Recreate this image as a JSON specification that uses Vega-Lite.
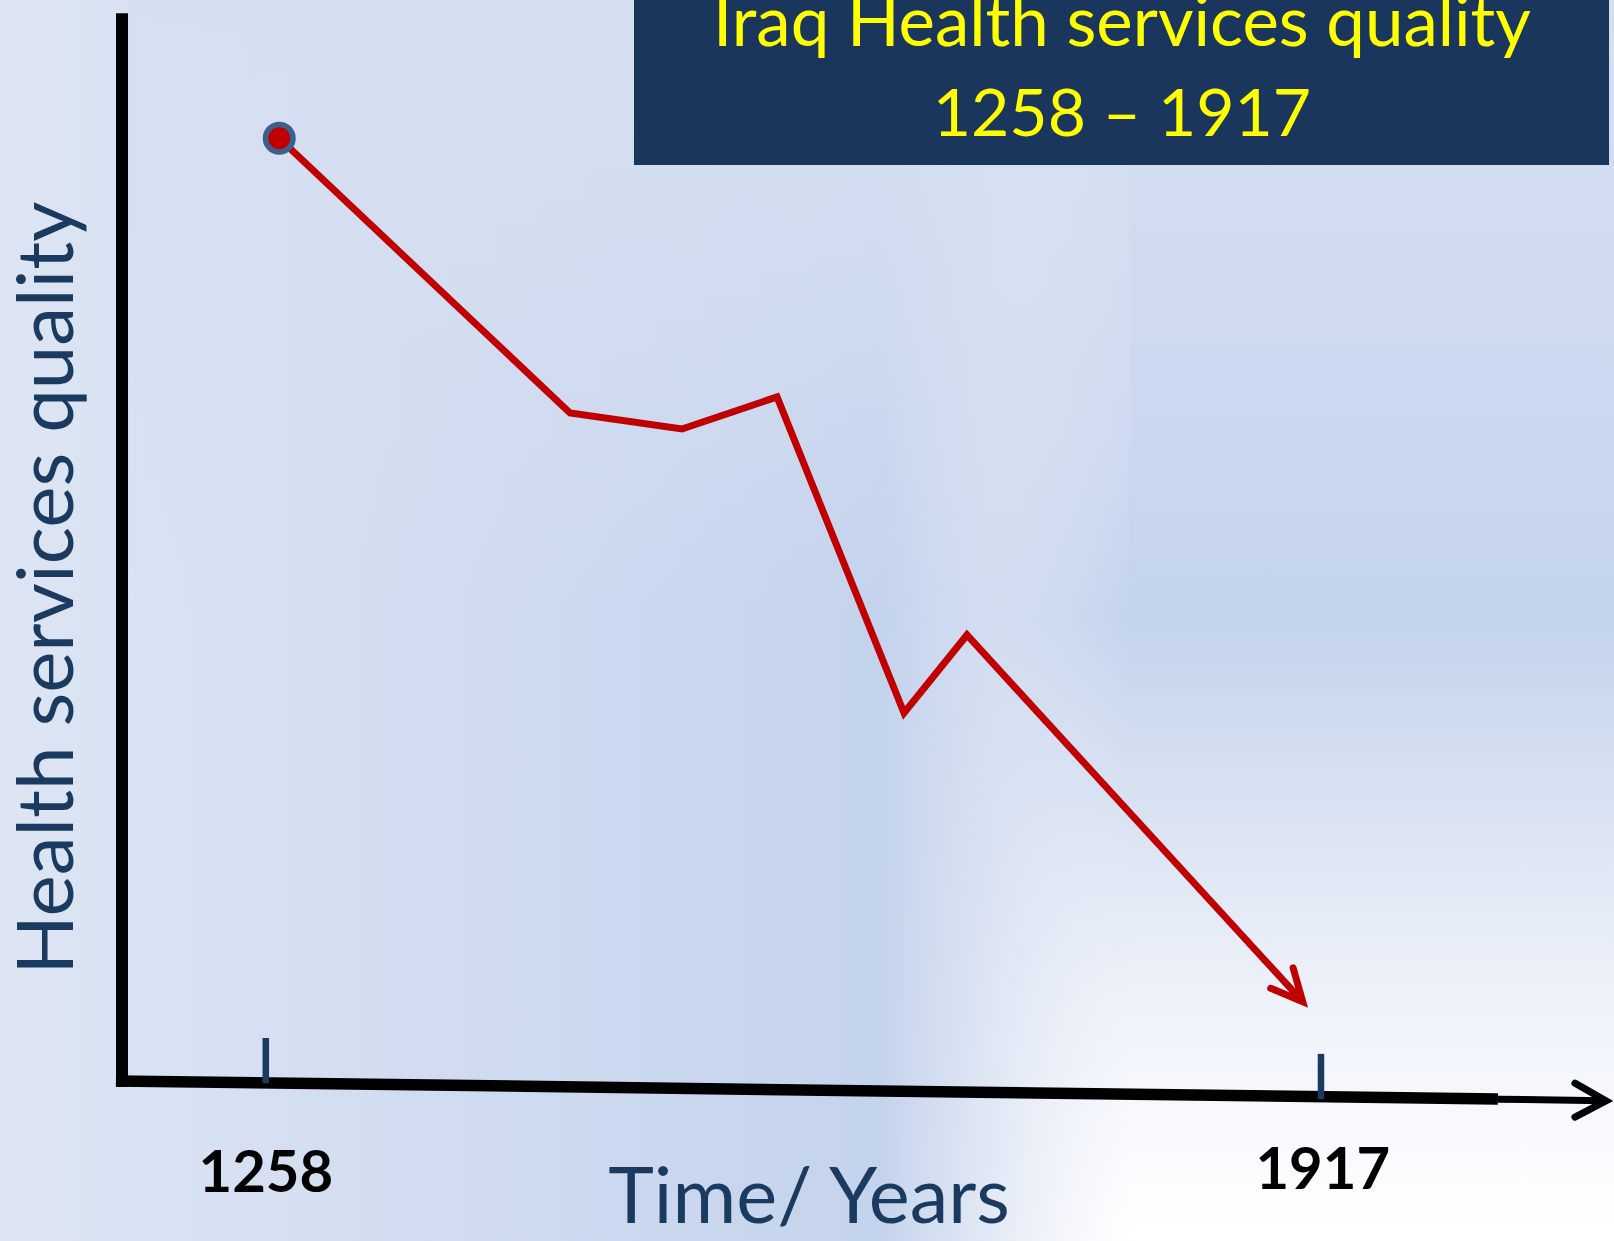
{
  "$schema": "https://vega.github.io/schema/vega-lite/v6.json",
  "width": 1614,
  "height": 1241,
  "autosize": {"type": "none"},
  "padding": 0,
  "background": "#ffffff",
  "config": {"view": {"stroke": null}},
  "datasets": {
    "quality": [
      {"year": 1266.4, "quality": 99.87},
      {"year": 1448.0, "quality": 70.81},
      {"year": 1517.9, "quality": 69.11},
      {"year": 1577.3, "quality": 72.5},
      {"year": 1656.6, "quality": 39.07},
      {"year": 1695.9, "quality": 47.32},
      {"year": 1905.6, "quality": 8.52}
    ],
    "redhead": [
      {"k": 1, "year": 1899.6, "quality": 12.1},
      {"k": 2, "year": 1905.6, "quality": 8.52},
      {"k": 3, "year": 1885.6, "quality": 9.94}
    ],
    "xaxis": [
      {"year": 1164.4, "quality": 0.13, "year2": 2027.5, "quality2": -1.77}
    ],
    "xaxisthin": [
      {"year": 2027.5, "quality": -1.8, "year2": 2094, "quality2": -1.96}
    ],
    "blackhead": [
      {"k": 1, "year": 2075.6, "quality": -0.1},
      {"k": 2, "year": 2095.0, "quality": -1.98},
      {"k": 3, "year": 2075.6, "quality": -3.7}
    ],
    "yaxis": [
      {"year": 1168.2, "quality": 113.1, "year2": 1168.2, "quality2": -0.5}
    ],
    "ticks": [
      {"year": 1258, "quality": 4.68, "year2": 1258, "quality2": -0.1},
      {"year": 1917, "quality": 3.0, "year2": 1917, "quality2": -1.8}
    ],
    "ticklabels": [
      {"year": 1258, "quality": -11.6, "label": "1258"},
      {"year": 1918.1, "quality": -11.3, "label": "1917"}
    ],
    "titles": [
      {"line": 1, "year": 1792.7, "quality": 109.63, "label": "Iraq Health services quality"},
      {"line": 2, "year": 1792.7, "quality": 100.12, "label": "1258 – 1917"}
    ]
  },
  "layer": [
    {
      "data": {"values": [{}]},
      "mark": {"type": "rect", "fill": {"gradient": "linear", "x1": 0, "y1": 0, "x2": 0, "y2": 1, "stops": [
        {"offset": 0, "color": "#d6e0f2"},
        {"offset": 0.32, "color": "#ccd8ef"},
        {"offset": 0.5, "color": "#c3d3ec"},
        {"offset": 0.65, "color": "#d9e2f2"},
        {"offset": 0.8, "color": "#edf1f9"},
        {"offset": 0.9, "color": "#f7f9fd"},
        {"offset": 1, "color": "#ffffff"}]}},
      "encoding": {
        "x": {"datum": 1092, "type": "quantitative", "scale": {"domain": [1092, 2100], "nice": false, "zero": false}, "axis": null},
        "x2": {"datum": 2100},
        "y": {"datum": 114.5, "type": "quantitative", "scale": {"domain": [-16.8, 114.5], "nice": false, "zero": false}, "axis": null},
        "y2": {"datum": -16.8}
      }
    },
    {
      "data": {"values": [{}]},
      "mark": {"type": "rect", "fill": {"gradient": "linear", "x1": 0, "y1": 0, "x2": 1, "y2": 0, "stops": [
        {"offset": 0, "color": "rgba(221,229,243,1)"},
        {"offset": 0.1, "color": "rgba(218,227,243,1)"},
        {"offset": 0.5, "color": "rgba(205,217,239,1)"},
        {"offset": 0.78, "color": "rgba(196,211,236,1)"},
        {"offset": 0.88, "color": "rgba(216,225,242,0.7)"},
        {"offset": 1, "color": "rgba(230,236,247,0)"}]}},
      "encoding": {
        "x": {"datum": 1092, "type": "quantitative", "scale": {"domain": [1092, 2100], "nice": false, "zero": false}, "axis": null},
        "x2": {"datum": 1797.7},
        "y": {"datum": 114.5, "type": "quantitative", "scale": {"domain": [-16.8, 114.5], "nice": false, "zero": false}, "axis": null},
        "y2": {"datum": -16.8}
      }
    },
    {
      "data": {"values": [{}]},
      "mark": {"type": "rect", "fill": {"gradient": "linear", "x1": 0, "y1": 0, "x2": 0, "y2": 1, "stops": [
        {"offset": 0, "color": "rgba(213,223,241,1)"},
        {"offset": 0.35, "color": "rgba(213,223,241,0.75)"},
        {"offset": 1, "color": "rgba(213,223,241,0)"}]}},
      "encoding": {
        "x": {"datum": 1172, "type": "quantitative", "scale": {"domain": [1092, 2100], "nice": false, "zero": false}, "axis": null},
        "x2": {"datum": 1797.7},
        "y": {"datum": 114.5, "type": "quantitative", "scale": {"domain": [-16.8, 114.5], "nice": false, "zero": false}, "axis": null},
        "y2": {"datum": 50}
      }
    },
    {
      "data": {"values": [{}]},
      "mark": {"type": "rect", "fill": "#1a365d"},
      "encoding": {
        "x": {"datum": 1487.95, "type": "quantitative", "scale": {"domain": [1092, 2100], "nice": false, "zero": false}, "axis": null},
        "x2": {"datum": 2096.9},
        "y": {"datum": 114.5, "type": "quantitative", "scale": {"domain": [-16.8, 114.5], "nice": false, "zero": false}, "axis": null},
        "y2": {"datum": 97.04}
      }
    },
    {
      "data": {"name": "titles"},
      "transform": [{"filter": "datum.line == 1"}],
      "mark": {"type": "text", "font": "Lato", "fontSize": 69, "color": "#ffff00", "align": "center", "baseline": "alphabetic"},
      "encoding": {
        "x": {"field": "year", "type": "quantitative", "scale": {"domain": [1092, 2100], "nice": false, "zero": false}, "axis": null},
        "y": {"field": "quality", "type": "quantitative", "scale": {"domain": [-16.8, 114.5], "nice": false, "zero": false}, "axis": null},
        "text": {"field": "label"}
      }
    },
    {
      "data": {"name": "titles"},
      "transform": [{"filter": "datum.line == 2"}],
      "mark": {"type": "text", "font": "Lato", "fontSize": 66, "color": "#ffff00", "align": "center", "baseline": "alphabetic"},
      "encoding": {
        "x": {"field": "year", "type": "quantitative", "scale": {"domain": [1092, 2100], "nice": false, "zero": false}, "axis": null},
        "y": {"field": "quality", "type": "quantitative", "scale": {"domain": [-16.8, 114.5], "nice": false, "zero": false}, "axis": null},
        "text": {"field": "label"}
      }
    },
    {
      "data": {"name": "yaxis"},
      "mark": {"type": "rule", "color": "#000000", "strokeWidth": 12, "strokeCap": "butt"},
      "encoding": {
        "x": {"field": "year", "type": "quantitative", "scale": {"domain": [1092, 2100], "nice": false, "zero": false}, "axis": null},
        "y": {"field": "quality", "type": "quantitative", "scale": {"domain": [-16.8, 114.5], "nice": false, "zero": false}, "axis": null},
        "x2": {"field": "year2"},
        "y2": {"field": "quality2"}
      }
    },
    {
      "data": {"name": "xaxis"},
      "mark": {"type": "rule", "color": "#000000", "strokeWidth": 11.5, "strokeCap": "butt"},
      "encoding": {
        "x": {"field": "year", "type": "quantitative", "scale": {"domain": [1092, 2100], "nice": false, "zero": false}, "axis": null},
        "y": {"field": "quality", "type": "quantitative", "scale": {"domain": [-16.8, 114.5], "nice": false, "zero": false}, "axis": null},
        "x2": {"field": "year2"},
        "y2": {"field": "quality2"}
      }
    },
    {
      "data": {"name": "xaxisthin"},
      "mark": {"type": "rule", "color": "#000000", "strokeWidth": 7, "strokeCap": "butt"},
      "encoding": {
        "x": {"field": "year", "type": "quantitative", "scale": {"domain": [1092, 2100], "nice": false, "zero": false}, "axis": null},
        "y": {"field": "quality", "type": "quantitative", "scale": {"domain": [-16.8, 114.5], "nice": false, "zero": false}, "axis": null},
        "x2": {"field": "year2"},
        "y2": {"field": "quality2"}
      }
    },
    {
      "data": {"name": "blackhead"},
      "mark": {"type": "line", "color": "#000000", "strokeWidth": 7, "strokeCap": "round", "strokeJoin": "miter"},
      "encoding": {
        "x": {"field": "year", "type": "quantitative", "scale": {"domain": [1092, 2100], "nice": false, "zero": false}, "axis": null},
        "y": {"field": "quality", "type": "quantitative", "scale": {"domain": [-16.8, 114.5], "nice": false, "zero": false}, "axis": null},
        "order": {"field": "k"}
      }
    },
    {
      "data": {"name": "ticks"},
      "mark": {"type": "rule", "color": "#1b3a5f", "strokeWidth": 6.5, "strokeCap": "butt"},
      "encoding": {
        "x": {"field": "year", "type": "quantitative", "scale": {"domain": [1092, 2100], "nice": false, "zero": false}, "axis": null},
        "y": {"field": "quality", "type": "quantitative", "scale": {"domain": [-16.8, 114.5], "nice": false, "zero": false}, "axis": null},
        "x2": {"field": "year2"},
        "y2": {"field": "quality2"}
      }
    },
    {
      "data": {"name": "quality"},
      "mark": {"type": "line", "color": "#c00000", "strokeWidth": 7, "strokeJoin": "miter", "strokeCap": "butt"},
      "encoding": {
        "x": {"field": "year", "type": "quantitative", "scale": {"domain": [1092, 2100], "nice": false, "zero": false}, "axis": null},
        "y": {"field": "quality", "type": "quantitative", "scale": {"domain": [-16.8, 114.5], "nice": false, "zero": false}, "axis": null}
      }
    },
    {
      "data": {"name": "redhead"},
      "mark": {"type": "line", "color": "#c00000", "strokeWidth": 7, "strokeCap": "round", "strokeJoin": "miter"},
      "encoding": {
        "x": {"field": "year", "type": "quantitative", "scale": {"domain": [1092, 2100], "nice": false, "zero": false}, "axis": null},
        "y": {"field": "quality", "type": "quantitative", "scale": {"domain": [-16.8, 114.5], "nice": false, "zero": false}, "axis": null},
        "order": {"field": "k"}
      }
    },
    {
      "data": {"name": "quality"},
      "transform": [{"filter": "datum.year < 1300"}],
      "mark": {"type": "point", "shape": "circle", "filled": true, "fill": "#c00000", "stroke": "#3b5f8e", "strokeWidth": 5.5, "size": 755, "opacity": 1},
      "encoding": {
        "x": {"field": "year", "type": "quantitative", "scale": {"domain": [1092, 2100], "nice": false, "zero": false}, "axis": null},
        "y": {"field": "quality", "type": "quantitative", "scale": {"domain": [-16.8, 114.5], "nice": false, "zero": false}, "axis": null}
      }
    },
    {
      "data": {"name": "ticklabels"},
      "mark": {"type": "text", "font": "Lato", "fontWeight": "bold", "fontSize": 58, "color": "#000000", "align": "center", "baseline": "alphabetic"},
      "encoding": {
        "x": {"field": "year", "type": "quantitative", "scale": {"domain": [1092, 2100], "nice": false, "zero": false}, "axis": null},
        "y": {"field": "quality", "type": "quantitative", "scale": {"domain": [-16.8, 114.5], "nice": false, "zero": false}, "axis": null},
        "text": {"field": "label"}
      }
    },
    {
      "data": {"values": [{"year": 1597.3, "quality": -14.87, "label": "Time/ Years"}]},
      "mark": {"type": "text", "font": "Lato", "fontSize": 77.5, "color": "#1b3a5f", "align": "center", "baseline": "alphabetic"},
      "encoding": {
        "x": {"field": "year", "type": "quantitative", "scale": {"domain": [1092, 2100], "nice": false, "zero": false}, "axis": null},
        "y": {"field": "quality", "type": "quantitative", "scale": {"domain": [-16.8, 114.5], "nice": false, "zero": false}, "axis": null},
        "text": {"field": "label"}
      }
    },
    {
      "data": {"values": [{"year": 1137.8, "quality": 52.27, "label": "Health services quality"}]},
      "mark": {"type": "text", "font": "Lato", "fontSize": 78, "color": "#1b3a5f", "align": "center", "baseline": "alphabetic", "angle": 270},
      "encoding": {
        "x": {"field": "year", "type": "quantitative", "scale": {"domain": [1092, 2100], "nice": false, "zero": false}, "axis": null},
        "y": {"field": "quality", "type": "quantitative", "scale": {"domain": [-16.8, 114.5], "nice": false, "zero": false}, "axis": null},
        "text": {"field": "label"}
      }
    }
  ]
}
